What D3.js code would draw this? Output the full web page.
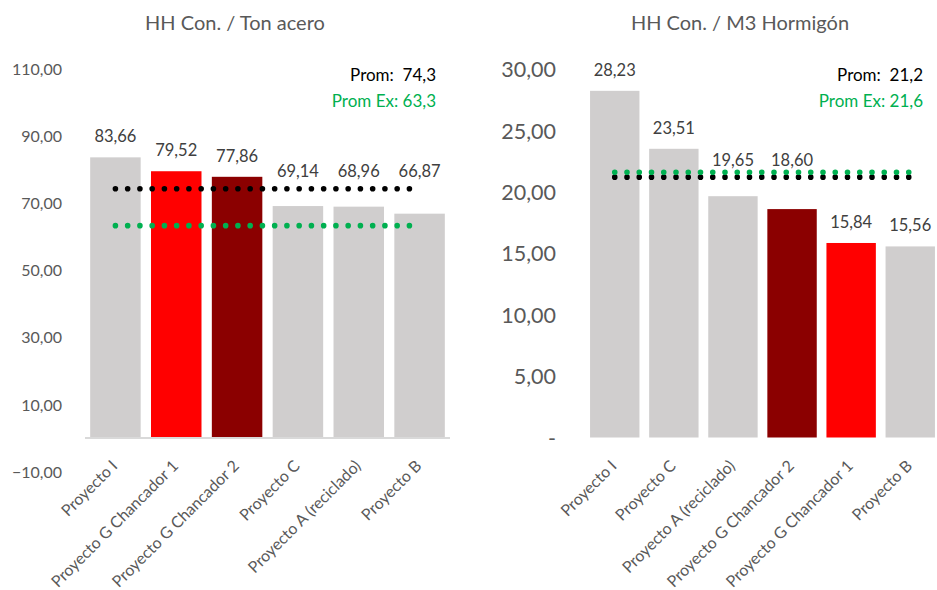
<!DOCTYPE html>
<html>
<head>
<meta charset="utf-8">
<script src="https://cdn.jsdelivr.net/npm/d3@7/dist/d3.min.js"></script>
<style>
  html, body { margin: 0; padding: 0; background: #fff; }
  svg { display: block; font-family: Lato, "Open Sans", sans-serif; }
  text { white-space: pre; }
</style>
</head>
<body>
<svg id="chart" width="937" height="590"></svg>
<script>
// Steel chart: man-hours of construction per tonne of steel
const steelTitle = "HH Con. / Ton acero";
const steelCategories = ["Proyecto I", "Proyecto G Chancador 1", "Proyecto G Chancador 2", "Proyecto C", "Proyecto A (reciclado)", "Proyecto B"];
const steelValues = [83.66, 79.52, 77.86, 69.14, 68.96, 66.87];
const steelTicks = [-10, 10, 30, 50, 70, 90, 110];
const steelProm = 74.3;
const steelPromEx = 63.3;

// Concrete chart: man-hours of construction per m3 of concrete
const concreteTitle = "HH Con. / M3 Hormigón";
const concreteCategories = ["Proyecto I", "Proyecto C", "Proyecto A (reciclado)", "Proyecto G Chancador 2", "Proyecto G Chancador 1", "Proyecto B"];
const concreteValues = [28.23, 23.51, 19.65, 18.60, 15.84, 15.56];
const concreteTicks = [0, 5, 10, 15, 20, 25, 30];
const concreteProm = 21.2;
const concretePromEx = 21.6;

// Bar colour per project
const barColor = {
  "Proyecto G Chancador 1": "#FF0000",
  "Proyecto G Chancador 2": "#8B0000"
};
const defaultBar = "#D0CECE";

const locale = d3.formatLocale({ decimal: ",", thousands: ".", grouping: [3], currency: ["", ""] });
const fmt2 = locale.format(".2f");
const fmt1 = locale.format(".1f");

const svg = d3.select("#chart");

function drawPanel(cfg) {
  const g = svg.append("g");
  const x = d3.scaleBand().domain(cfg.categories).range(cfg.xRange)
    .paddingInner(cfg.padInner).paddingOuter(cfg.padInner / 2);
  const y = d3.scaleLinear().domain(cfg.yDomain).range(cfg.yRange);
  const data = cfg.categories.map((c, i) => ({ c, v: cfg.values[i] }));

  // title
  g.append("text").attr("x", cfg.titleX).attr("y", 22)
    .attr("text-anchor", "middle").attr("dominant-baseline", "central")
    .attr("fill", "#595959").attr("font-size", cfg.titleSize).text(cfg.title);

  // value axis labels (zero shown as a dash in the accounting style)
  const yAxis = d3.axisLeft(y).tickValues(cfg.ticks).tickSize(0).tickPadding(0)
    .tickFormat(d => d === 0 && cfg.dashZero ? "-" : fmt2(d));
  const ya = g.append("g").attr("transform", `translate(${cfg.tickX},0)`).call(yAxis);
  ya.select(".domain").remove();
  ya.selectAll("text").attr("fill", "#595959").attr("font-size", cfg.tickSize)
    .attr("font-family", "Lato, 'Open Sans', sans-serif").attr("dy", "0.35em");

  // bars
  g.selectAll("rect.bar").data(data).join("rect").attr("class", "bar")
    .attr("x", d => x(d.c)).attr("width", x.bandwidth())
    .attr("y", d => y(Math.max(0, d.v))).attr("height", d => Math.abs(y(d.v) - y(0)))
    .attr("fill", d => barColor[d.c] || defaultBar);

  // category axis line
  if (cfg.axisLine) {
    g.append("line").attr("x1", cfg.xRange[0]).attr("x2", cfg.xRange[1])
      .attr("y1", y(0)).attr("y2", y(0)).attr("stroke", "#D9D9D9").attr("stroke-width", 2);
  }

  // average lines (round dots)
  const x1 = x(cfg.categories[0]) + x.bandwidth() / 2;
  const x2 = x(cfg.categories[cfg.categories.length - 1]) + x.bandwidth() / 2;
  const lineYs = [cfg.prom, cfg.promEx].map(v => y(v));
  [[cfg.prom, "#000000"], [cfg.promEx, "#00B050"]].forEach(([v, col]) => {
    g.append("line").attr("x1", x1).attr("x2", x2).attr("y1", y(v)).attr("y2", y(v))
      .attr("stroke", col).attr("stroke-width", 5.6).attr("stroke-linecap", "round")
      .attr("stroke-dasharray", "0 12.25");
  });

  // data labels; labels that would sit on the average lines are lifted above them
  const topLine = d3.min(lineYs);
  const labelY = d => {
    const base = y(d.v) - 21;
    const hit = lineYs.some(ly => Math.abs(ly - base) < 14);
    return hit ? Math.min(base, topLine - cfg.liftGap) : base;
  };
  g.selectAll("text.val").data(data).join("text").attr("class", "val")
    .attr("x", d => x(d.c) + x.bandwidth() / 2).attr("y", labelY)
    .attr("text-anchor", "middle").attr("dominant-baseline", "central")
    .attr("fill", "#404040").attr("font-size", cfg.labelSize).text(d => fmt2(d.v));

  // average annotations
  g.append("text").attr("x", cfg.promX).attr("y", 74).attr("text-anchor", "end")
    .attr("dominant-baseline", "central").attr("fill", "#000").attr("font-size", cfg.promSize)
    .text("Prom:  " + fmt1(cfg.prom));
  g.append("text").attr("x", cfg.promX).attr("y", 100).attr("text-anchor", "end")
    .attr("dominant-baseline", "central").attr("fill", "#00B050").attr("font-size", cfg.promSize)
    .text("Prom Ex: " + fmt1(cfg.promEx));

  // rotated category labels
  g.selectAll("text.cat").data(data).join("text").attr("class", "cat")
    .attr("transform", d => `translate(${x(d.c) + x.bandwidth() / 2 + 3},${cfg.catY}) rotate(-45)`)
    .attr("text-anchor", "end").attr("fill", "#595959").attr("font-size", cfg.catSize)
    .text(d => d.c);
}

drawPanel({
  title: steelTitle, titleX: 235, titleSize: 20,
  categories: steelCategories, values: steelValues, ticks: steelTicks,
  prom: steelProm, promEx: steelPromEx,
  xRange: [85, 450], padInner: 0.17,
  yDomain: [-10, 110], yRange: [471.5, 69],
  tickX: 62, tickSize: 16, labelSize: 16.5, promSize: 17, catSize: 16, catY: 467,
  promX: 436, axisLine: true, dashZero: false, liftGap: 18
});

drawPanel({
  title: concreteTitle, titleX: 740, titleSize: 20,
  categories: concreteCategories, values: concreteValues, ticks: concreteTicks,
  prom: concreteProm, promEx: concretePromEx,
  xRange: [585.2, 939.8], padInner: 0.164,
  yDomain: [0, 30], yRange: [437.5, 69.1],
  tickX: 556, tickSize: 21.5, labelSize: 16.5, promSize: 17, catSize: 16, catY: 467,
  promX: 923, axisLine: false, dashZero: true, liftGap: 12
});
</script>
</body>
</html>
